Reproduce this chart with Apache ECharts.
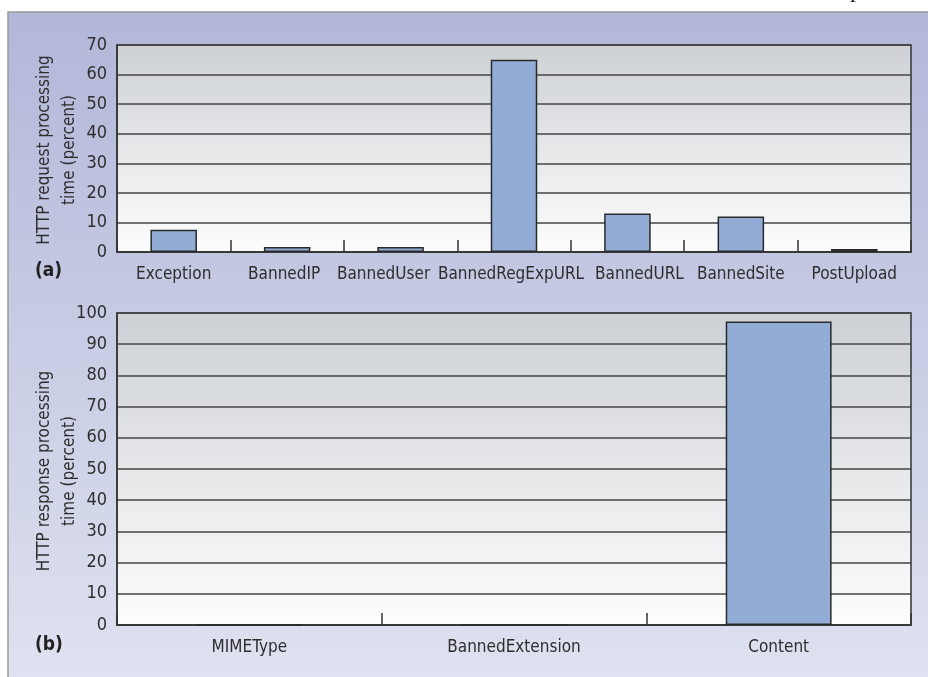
<!DOCTYPE html>
<html>
<head>
<meta charset="utf-8">
<script src="https://cdn.jsdelivr.net/npm/echarts@6/dist/echarts.min.js"></script>
<style>
html,body{margin:0;padding:0;background:#fff;}
#chart{width:928px;height:677px;}
</style>
</head>
<body>
<div id="chart"></div>
<script>
// ---- data ----
const requestCategories = ['Exception','BannedIP','BannedUser','BannedRegExpURL','BannedURL','BannedSite','PostUpload'];
const requestValues = [7.5, 1.7, 1.7, 65, 13, 12, 1];
const responseCategories = ['MIMEType','BannedExtension','Content'];
const responseValues = [0, 0, 97.3];
const requestTicks = {min:0, max:70, interval:10};
const responseTicks = {min:0, max:100, interval:10};
const requestTitle = 'HTTP request processing\ntime (percent)';
const responseTitle = 'HTTP response processing\ntime (percent)';

const FONT = '"Liberation Sans Narrow","DejaVu Sans Condensed","Roboto Condensed",Roboto,sans-serif';
const TXT = '#2e2e2e';

const plotBg = {type:'linear',x:0,y:0,x2:0,y2:1,colorStops:[{offset:0,color:'#cdd1d5'},{offset:1,color:'#fdfdfd'}]};

// label nudges (px, horizontal) so crowded labels don't collide, as in the original
const labelShift = {'BannedUser':-17,'BannedURL':12,'BannedIP':-3,'BannedRegExpURL':-3};

function xAx(idx, cats){
  return {
    type:'category', gridIndex:idx, data:cats,
    axisLine:{show:true,lineStyle:{color:'#333',width:1.5}},
    axisTick:{show:true,inside:true,length:12,interval:0,lineStyle:{color:'#333',width:1.5}},
    axisLabel:{interval:0,fontSize:17,color:TXT,fontFamily:FONT,margin:14,
      formatter:function(v){
        const s = labelShift[v] || 0;
        if(s<0) return '{L|'+v+'}';
        if(s>0) return '{R|'+v+'}';
        return v;
      },
      rich:{}
    },
    splitLine:{show:false}
  };
}
function yAx(idx, t){
  return {
    type:'value', gridIndex:idx, min:t.min, max:t.max, interval:t.interval,
    axisLine:{show:true,lineStyle:{color:'#333',width:1.5}},
    axisTick:{show:false},
    axisLabel:{fontSize:18,color:TXT,fontFamily:FONT,margin:10},
    splitLine:{show:true,lineStyle:{color:'#444',width:1.5}}
  };
}
const barStyle = {color:'#93acd6',borderColor:'#2a2a2a',borderWidth:1.5};

const xa = xAx(0,requestCategories);
// build per-label rich styles from the shift table
xa.axisLabel.formatter = function(v){
  const s = labelShift[v] || 0;
  if(!s) return v;
  return '{s'+requestCategories.indexOf(v)+'|'+v+'}';
};
requestCategories.forEach(function(c,i){
  const s = labelShift[c] || 0;
  if(s){
    xa.axisLabel.rich['s'+i] = {fontSize:17,color:TXT,fontFamily:FONT,
      padding: s<0 ? [0,-2*s,0,0] : [0,0,0,2*s]};
  }
});

const chart = echarts.init(document.getElementById('chart'),null,{renderer:'canvas'});
chart.setOption({
  animation:false,
  backgroundColor:'#ffffff',
  graphic:[
    {type:'rect',z:-100,shape:{x:8,y:12,width:925,height:670},
     style:{fill:{type:'linear',x:0,y:0,x2:0,y2:1,colorStops:[{offset:0,color:'#b2b7d9'},{offset:1,color:'#dfe2f0'}]},stroke:'#9a9a9a',lineWidth:1.5}},
    {type:'text',left:35,top:262,style:{text:'(a)',fontSize:19,fontWeight:'bold',fill:'#222',fontFamily:FONT}},
    {type:'text',left:35,top:636,style:{text:'(b)',fontSize:19,fontWeight:'bold',fill:'#222',fontFamily:FONT}},
    {type:'text',left:850,top:-21,style:{text:'p',fontSize:24,fill:'#222',fontFamily:'"Liberation Serif",serif'}},
    {type:'text',x:57,y:150,rotation:Math.PI/2,
     style:{text:requestTitle,fontSize:17,lineHeight:25,fill:TXT,fontFamily:FONT,align:'center',verticalAlign:'middle'}},
    {type:'text',x:57,y:471,rotation:Math.PI/2,
     style:{text:responseTitle,fontSize:17,lineHeight:25,fill:TXT,fontFamily:FONT,align:'center',verticalAlign:'middle'}}
  ],
  grid:[
    {left:117,top:45,width:794,height:207,show:true,backgroundColor:plotBg,borderColor:'#333',borderWidth:1.5},
    {left:117,top:313,width:794,height:312,show:true,backgroundColor:plotBg,borderColor:'#333',borderWidth:1.5}
  ],
  xAxis:[xa, xAx(1,responseCategories)],
  yAxis:[yAx(0,requestTicks), yAx(1,responseTicks)],
  series:[
    {type:'bar',xAxisIndex:0,yAxisIndex:0,data:requestValues,barWidth:'41%',itemStyle:barStyle},
    {type:'bar',xAxisIndex:1,yAxisIndex:1,data:responseValues,barWidth:'40%',itemStyle:barStyle}
  ]
});
</script>
</body>
</html>
